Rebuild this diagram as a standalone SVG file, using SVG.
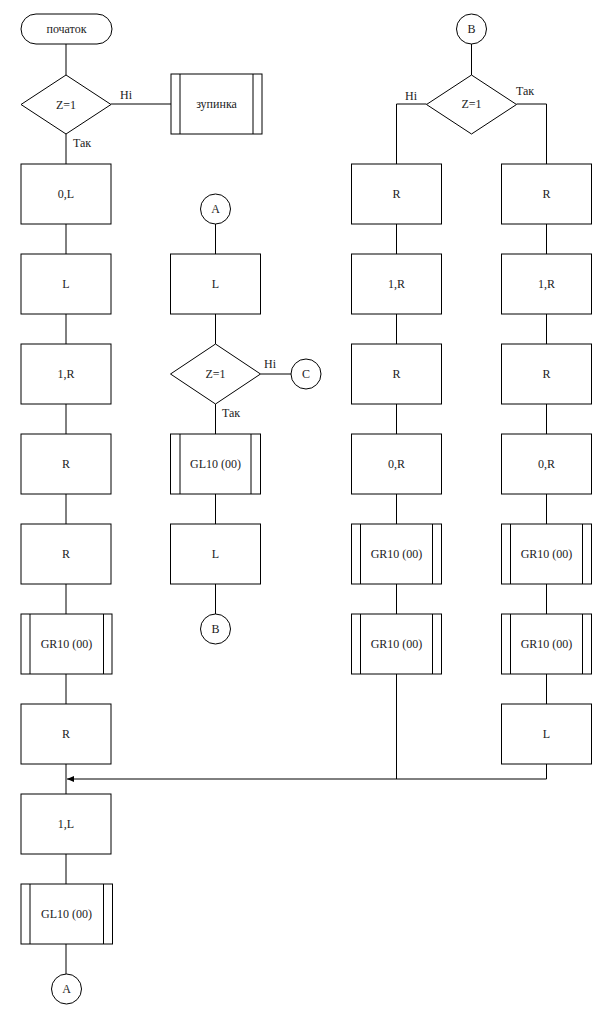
<svg xmlns="http://www.w3.org/2000/svg" width="605" height="1026" viewBox="0 0 605 1026" font-family="'Liberation Serif', serif">
<style>
.s{fill:#fff;stroke:#000;stroke-width:1}
.l{fill:none;stroke:#000;stroke-width:1}
text{font-family:'Liberation Serif',serif;font-size:12px;fill:#222;text-anchor:middle}
.lb{text-anchor:start}
</style>
<defs>
<marker id="ah" markerWidth="8" markerHeight="6" refX="7" refY="3" orient="auto" markerUnits="userSpaceOnUse">
<path d="M0,0 L7,3 L0,6 Z" fill="#000"/>
</marker>
</defs>
<rect width="605" height="1026" fill="#fff"/>
<g id="connectors">
<path class="l" d="M66,44 V75 M111,104 H171 M66,134 V164 M66,224 V254 M66,314 V344 M66,404 V434 M66,494 V524 M66,584 V614 M66,674 V704 M66,764 V794 M66,854 V884 M66,944 V974"/>
<path class="l" d="M215.5,224 V254 M215.5,314 V344 M260.5,374 H291 M215.5,404 V434 M215.5,494 V524 M215.5,584 V614"/>
<path class="l" d="M471.5,44 V75 M426.5,104 H396.5 V164 M516.5,104 H546.5 V164"/>
<path class="l" d="M396.5,224 V254 M396.5,314 V344 M396.5,404 V434 M396.5,494 V524 M396.5,584 V614 M396.5,674 V779"/>
<path class="l" d="M546.5,224 V254 M546.5,314 V344 M546.5,404 V434 M546.5,494 V524 M546.5,584 V614 M546.5,674 V704"/>
<path class="l" d="M546.5,764 V779 H67" marker-end="url(#ah)"/>
<text class="lb" x="120" y="99">Ні</text>
<text class="lb" x="73" y="147">Так</text>
<text class="lb" x="264" y="368">Ні</text>
<text class="lb" x="222" y="417">Так</text>
<text class="lb" x="405" y="100">Ні</text>
<text class="lb" x="516" y="95">Так</text>
</g>
<g id="start"><rect class="s" x="21" y="14" width="91" height="30" rx="15" ry="15"/><text x="66.5" y="33">початок</text></g>
<g id="d1"><path class="s" d="M66,75 L111,104.5 L66,134 L21,104.5 Z"/><text x="66" y="108.5">Z=1</text></g>
<g id="stop"><rect class="s" x="171" y="74" width="91" height="60"/><path class="l" d="M180,74 V134 M253,74 V134"/><text x="216.5" y="108">зупинка</text></g>
<g id="b1"><rect class="s" x="21" y="164" width="90" height="60"/><text x="66" y="198">0,L</text></g>
<g id="b2"><rect class="s" x="21" y="254" width="90" height="60"/><text x="66" y="288">L</text></g>
<g id="b3"><rect class="s" x="21" y="344" width="90" height="60"/><text x="66" y="378">1,R</text></g>
<g id="b4"><rect class="s" x="21" y="434" width="90" height="60"/><text x="66" y="468">R</text></g>
<g id="b5"><rect class="s" x="21" y="524" width="90" height="60"/><text x="66" y="558">R</text></g>
<g id="b6"><rect class="s" x="21" y="614" width="91" height="60"/><path class="l" d="M30,614 V674 M103.5,614 V674"/><text x="66.5" y="648">GR10 (00)</text></g>
<g id="b7"><rect class="s" x="21" y="704" width="90" height="60"/><text x="66" y="738">R</text></g>
<g id="b8"><rect class="s" x="21" y="794" width="90" height="60"/><text x="66" y="828">1,L</text></g>
<g id="b9"><rect class="s" x="21" y="884" width="91.5" height="60"/><path class="l" d="M30,884 V944 M103.5,884 V944"/><text x="66.5" y="918">GL10 (00)</text></g>
<g id="cA1"><circle class="s" cx="66.5" cy="989" r="15"/><text x="66.5" y="993">A</text></g>
<g id="cA2"><circle class="s" cx="215.5" cy="209" r="15"/><text x="215.5" y="213">A</text></g>
<g id="m1"><rect class="s" x="170.5" y="254" width="90" height="60"/><text x="215.5" y="288">L</text></g>
<g id="d2"><path class="s" d="M215.5,344 L260.5,374 L215.5,404 L170.5,374 Z"/><text x="215.5" y="378">Z=1</text></g>
<g id="cC"><circle class="s" cx="306" cy="374" r="15"/><text x="306" y="378">C</text></g>
<g id="m2"><rect class="s" x="170.5" y="434" width="90" height="60"/><path class="l" d="M180,434 V494 M251,434 V494"/><text x="215.5" y="468">GL10 (00)</text></g>
<g id="m3"><rect class="s" x="170.5" y="524" width="90" height="60"/><text x="215.5" y="558">L</text></g>
<g id="cB1"><circle class="s" cx="215.5" cy="629" r="15"/><text x="215.5" y="633">B</text></g>
<g id="cB2"><circle class="s" cx="471.5" cy="29" r="15"/><text x="471.5" y="33">B</text></g>
<g id="d3"><path class="s" d="M471.5,75 L516.5,104.5 L471.5,134 L426.5,104.5 Z"/><text x="471.5" y="108">Z=1</text></g>
<g id="r1"><rect class="s" x="351.5" y="164" width="90" height="60"/><text x="396.5" y="198">R</text></g>
<g id="r2"><rect class="s" x="351.5" y="254" width="90" height="60"/><text x="396.5" y="288">1,R</text></g>
<g id="r3"><rect class="s" x="351.5" y="344" width="90" height="60"/><text x="396.5" y="378">R</text></g>
<g id="r4"><rect class="s" x="351.5" y="434" width="90" height="60"/><text x="396.5" y="468">0,R</text></g>
<g id="r5"><rect class="s" x="351.5" y="524" width="90" height="60"/><path class="l" d="M360.5,524 V584 M432.5,524 V584"/><text x="396.5" y="558">GR10 (00)</text></g>
<g id="r6"><rect class="s" x="351.5" y="614" width="90" height="60"/><path class="l" d="M360.5,614 V674 M432.5,614 V674"/><text x="396.5" y="648">GR10 (00)</text></g>
<g id="t1"><rect class="s" x="501.5" y="164" width="90" height="60"/><text x="546.5" y="198">R</text></g>
<g id="t2"><rect class="s" x="501.5" y="254" width="90" height="60"/><text x="546.5" y="288">1,R</text></g>
<g id="t3"><rect class="s" x="501.5" y="344" width="90" height="60"/><text x="546.5" y="378">R</text></g>
<g id="t4"><rect class="s" x="501.5" y="434" width="90" height="60"/><text x="546.5" y="468">0,R</text></g>
<g id="t5"><rect class="s" x="501.5" y="524" width="90" height="60"/><path class="l" d="M510.5,524 V584 M582.5,524 V584"/><text x="546.5" y="558">GR10 (00)</text></g>
<g id="t6"><rect class="s" x="501.5" y="614" width="90" height="60"/><path class="l" d="M510.5,614 V674 M582.5,614 V674"/><text x="546.5" y="648">GR10 (00)</text></g>
<g id="t7"><rect class="s" x="501.5" y="704" width="90" height="60"/><text x="546.5" y="738">L</text></g>
</svg>
